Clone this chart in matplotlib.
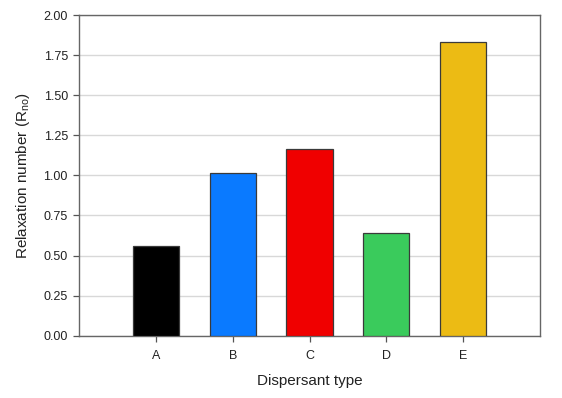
import matplotlib
matplotlib.use("Agg")
import matplotlib.pyplot as plt

categories = ["A", "B", "C", "D", "E"]
values = [0.56, 1.017, 1.163, 0.643, 1.832]
colors = ["#000000", "#0a7aff", "#f00000", "#3acb5c", "#ecbb14"]
yticks = [0.00, 0.25, 0.50, 0.75, 1.00, 1.25, 1.50, 1.75, 2.00]

plt.rcParams['font.family'] = ['Liberation Sans', 'DejaVu Sans']

fig = plt.figure(figsize=(5.62, 3.98), dpi=100)
ax = fig.add_axes([0.1406, 0.1565, 0.8204, 0.8058])

x = list(range(1, len(categories) + 1))
ax.bar(x, values, width=0.6, color=colors, edgecolor="#3a3a3a", linewidth=0.9, zorder=3)

ax.set_xlim(0, 6)
ax.set_ylim(0, 2.0)
ax.set_xticks(x)
ax.set_xticklabels(categories)
ax.set_yticks(yticks)
ax.set_yticklabels([f"{v:.2f}" for v in yticks])
ax.yaxis.grid(True, color="#d8d8d8", linewidth=1.0, zorder=0)
ax.set_axisbelow(True)

for s in ax.spines.values():
    s.set_color("#666666")
    s.set_linewidth(1.0)

ax.tick_params(axis="both", direction="out", length=4, width=0.9, color="#555555",
               labelsize=9, labelcolor="#222222", pad=4)
ax.tick_params(axis="x", pad=6)

ax.set_xlabel("Dispersant type", fontsize=11, labelpad=9, color="#222222")
ax.set_ylabel("Relaxation number (R$_{\\mathregular{no}}$)", fontsize=11, labelpad=8, color="#222222")

fig.savefig("out.png", dpi=100)
